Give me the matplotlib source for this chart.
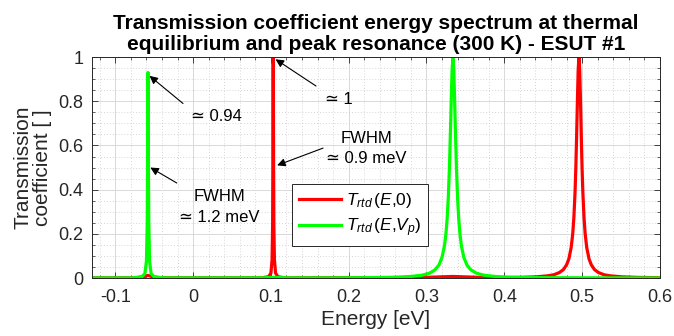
import numpy as np
import matplotlib
matplotlib.use("Agg")
import matplotlib.pyplot as plt
from matplotlib.ticker import MultipleLocator

plt.rcParams['font.family'] = ['Liberation Sans', 'DejaVu Sans']
plt.rcParams['mathtext.fontset'] = 'custom'
plt.rcParams['mathtext.rm'] = 'Liberation Sans'
plt.rcParams['mathtext.it'] = 'Liberation Sans:italic'

# T_rtd(E, 0)
e_eq = [-0.13, -0.075, -0.064, -0.058, -0.052, -0.041, 0.088, 0.097, 0.100, 0.1015,
        0.1022, 0.10255, 0.1027, 0.103, 0.1033, 0.10345, 0.1038, 0.1045, 0.106, 0.109,
        0.118, 0.29, 0.334, 0.38, 0.396, 0.421, 0.441, 0.456, 0.464, 0.471,
        0.476, 0.480, 0.483, 0.486, 0.488, 0.4895, 0.491, 0.492, 0.493, 0.494,
        0.495, 0.496, 0.497, 0.498, 0.499, 0.500, 0.501, 0.5025, 0.504, 0.506,
        0.509, 0.512, 0.516, 0.521, 0.528, 0.536, 0.551, 0.571, 0.596, 0.6]
t_eq = [0.0005, 0.001, 0.005, 0.012, 0.005, 0.001, 0.001, 0.0056, 0.022, 0.083,
        0.24, 0.5, 0.69, 1.0, 0.69, 0.5, 0.24, 0.083, 0.022, 0.0056,
        0.001, 0.002, 0.007, 0.0015, 0.0016, 0.0028, 0.0053, 0.0099, 0.015, 0.025,
        0.038, 0.059, 0.086, 0.138, 0.2, 0.275, 0.39, 0.5, 0.64, 0.8,
        0.941, 1.0, 0.941, 0.8, 0.64, 0.5, 0.39, 0.275, 0.2, 0.138,
        0.086, 0.059, 0.038, 0.025, 0.015, 0.0099, 0.0053, 0.0028, 0.0016, 0.0015]

# T_rtd(E, Vp)
e_vp = [-0.13, -0.078, -0.066, -0.062, -0.060, -0.059, -0.0586, -0.0584, -0.058, -0.0576,
        -0.0574, -0.057, -0.056, -0.054, -0.050, -0.038, 0.09, 0.103, 0.12, 0.174,
        0.234, 0.259, 0.279, 0.294, 0.304, 0.311, 0.316, 0.320, 0.323, 0.325,
        0.3265, 0.328, 0.3295, 0.331, 0.332, 0.333, 0.334, 0.335, 0.336, 0.337,
        0.3385, 0.340, 0.3415, 0.343, 0.345, 0.348, 0.352, 0.357, 0.364, 0.374,
        0.389, 0.409, 0.434, 0.494, 0.6]
t_vp = [0.0005, 0.0008, 0.005, 0.02, 0.077, 0.25, 0.465, 0.64, 0.93, 0.64,
        0.465, 0.25, 0.077, 0.02, 0.005, 0.0008, 0.001, 0.003, 0.001, 0.0008,
        0.002, 0.0036, 0.0067, 0.0125, 0.022, 0.037, 0.059, 0.094, 0.143, 0.2,
        0.265, 0.36, 0.5, 0.69, 0.83, 0.948, 0.995, 0.948, 0.83, 0.69,
        0.5, 0.36, 0.265, 0.2, 0.143, 0.094, 0.059, 0.037, 0.022, 0.0125,
        0.0067, 0.0036, 0.002, 0.001, 0.0005]

x_ticks = [-0.1, 0, 0.1, 0.2, 0.3, 0.4, 0.5, 0.6]
x_labels = ['-0.1', '0', '0.1', '0.2', '0.3', '0.4', '0.5', '0.6']
y_ticks = [0, 0.2, 0.4, 0.6, 0.8, 1]
y_labels = ['0', '0.2', '0.4', '0.6', '0.8', '1']

fig = plt.figure(figsize=(6.74, 3.36), dpi=100)
ax = fig.add_axes([0.1365, 0.1726, 0.8425, 0.6575])

ax.plot(e_eq, t_eq, color=(1, 0, 0), lw=2.3, label=r'$T_{rtd}\,(E{,}0)$')
ax.plot(e_vp, t_vp, color=(0, 1, 0), lw=2.3, label=r'$T_{rtd}\,(E{,}V_p)$')

ax.set_xlim(-0.13, 0.6)
ax.set_ylim(0, 1)
ax.set_xticks(x_ticks)
ax.set_xticklabels(x_labels)
ax.set_yticks(y_ticks)
ax.set_yticklabels(y_labels)
ax.xaxis.set_minor_locator(MultipleLocator(0.02))
ax.yaxis.set_minor_locator(MultipleLocator(0.05))
ax.grid(which='major', color='#d9d9d9', lw=0.7)
ax.grid(which='minor', color='#c8c8c8', lw=0.6, ls=(0, (1, 2.5)))
ax.set_axisbelow(True)
ax.tick_params(which='both', direction='in', top=True, right=True,
               colors='#262626', labelsize=13)
ax.tick_params(which='major', length=4, width=0.6)
ax.tick_params(axis='x', which='major', pad=8)
ax.tick_params(axis='y', which='major', pad=6)
ax.tick_params(which='minor', length=2.5, width=0.5)
for s in ax.spines.values():
    s.set_color('#262626')
    s.set_linewidth(0.7)

ax.set_xlabel('Energy [eV]', fontsize=15, color='#262626', labelpad=3)
ax.set_ylabel('Transmission\ncoefficient [ ]', fontsize=15, color='#262626',
              labelpad=5, linespacing=1.0)
ax.set_title('Transmission coefficient energy spectrum at thermal\n'
             'equilibrium and peak resonance (300 K) - ESUT #1',
             fontsize=15, fontweight='bold', pad=5, linespacing=1.15)

arw = dict(arrowstyle='-|>', color='k', lw=0.8, mutation_scale=12, shrinkA=0, shrinkB=0)
ax.annotate('', xy=(-0.056, 0.915), xytext=(-0.013, 0.79), arrowprops=arw)
ax.annotate('', xy=(-0.055, 0.50), xytext=(-0.021, 0.43), arrowprops=arw)
ax.annotate('', xy=(0.106, 0.99), xytext=(0.158, 0.869), arrowprops=arw)
ax.annotate('', xy=(0.108, 0.51), xytext=(0.167, 0.588), arrowprops=arw)

txt = dict(ha='center', va='center', fontsize=12, color='k')
ax.text(0.030, 0.730, '\u2243 0.94', **txt)
ax.text(0.034, 0.371, 'FWHM', **txt)
ax.text(0.034, 0.276, '\u2243 1.2 meV', **txt)
ax.text(0.187, 0.808, '\u2243 1', **txt)
ax.text(0.223, 0.633, 'FWHM', **txt)
ax.text(0.223, 0.543, '\u2243 0.9 meV', **txt)

leg = ax.legend(loc='lower left', bbox_to_anchor=(0.127, 0.145),
                bbox_transform=ax.transData, fontsize=12.5, fancybox=False,
                framealpha=1, edgecolor='#262626', handlelength=2.4,
                borderpad=0.4, labelspacing=0.35, handletextpad=0.3,
                borderaxespad=0)
leg.get_frame().set_linewidth(0.7)

fig.savefig('out.png', dpi=100)
